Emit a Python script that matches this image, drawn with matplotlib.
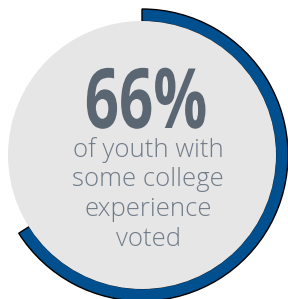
import matplotlib
matplotlib.use("Agg")
import matplotlib.pyplot as plt
from matplotlib.patches import Wedge, Circle
from matplotlib.patheffects import AbstractPathEffect
from matplotlib.transforms import Affine2D

# Data
share_pct = 66
headline = f"{share_pct}%"
caption_lines = ["of youth with", "some college", "experience", "voted"]


class Condense(AbstractPathEffect):
    """Squeeze glyphs horizontally about their own centre (condensed look)."""
    def __init__(self, sx):
        super().__init__()
        self.sx = sx

    def draw_path(self, renderer, gc, tpath, affine, rgbFace=None):
        ext = tpath.get_extents()
        xc = (ext.x0 + ext.x1) / 2
        t = Affine2D().translate(-xc, 0).scale(self.sx, 1).translate(xc, 0)
        renderer.draw_path(gc, tpath, t + affine, rgbFace)


W, H = 288, 299
fig = plt.figure(figsize=(W / 100, H / 100), dpi=100)
ax = fig.add_axes([0, 0, 1, 1])
ax.set_xlim(0, W)
ax.set_ylim(H, 0)
ax.set_aspect("equal")
ax.axis("off")

cx, cy = 142, 155
r_in, r_out = 133.5, 146

start = -90
end = -90 + 360 * share_pct / 100
ring = Wedge((cx, cy), r_out, start, end, width=r_out - r_in,
             facecolor="#00508f", edgecolor="black", linewidth=1.0, zorder=1)
ax.add_patch(ring)
disc = Circle((cx, cy), r_in + 0.5, facecolor="#e6e6e6", edgecolor="none", zorder=2)
ax.add_patch(disc)

ax.text(146, 128, headline, ha="center", va="baseline", fontsize=60,
        fontweight="bold", family="Open Sans", color="#5b6673", zorder=3,
        path_effects=[Condense(0.72)])

y0 = 150
for i, line in enumerate(caption_lines):
    ax.text(148, y0 + i * 30, line, ha="center", va="center", fontsize=18.5,
            family="Open Sans", fontweight="light", color="#717c89", zorder=3)

fig.savefig("out.png", dpi=100)
